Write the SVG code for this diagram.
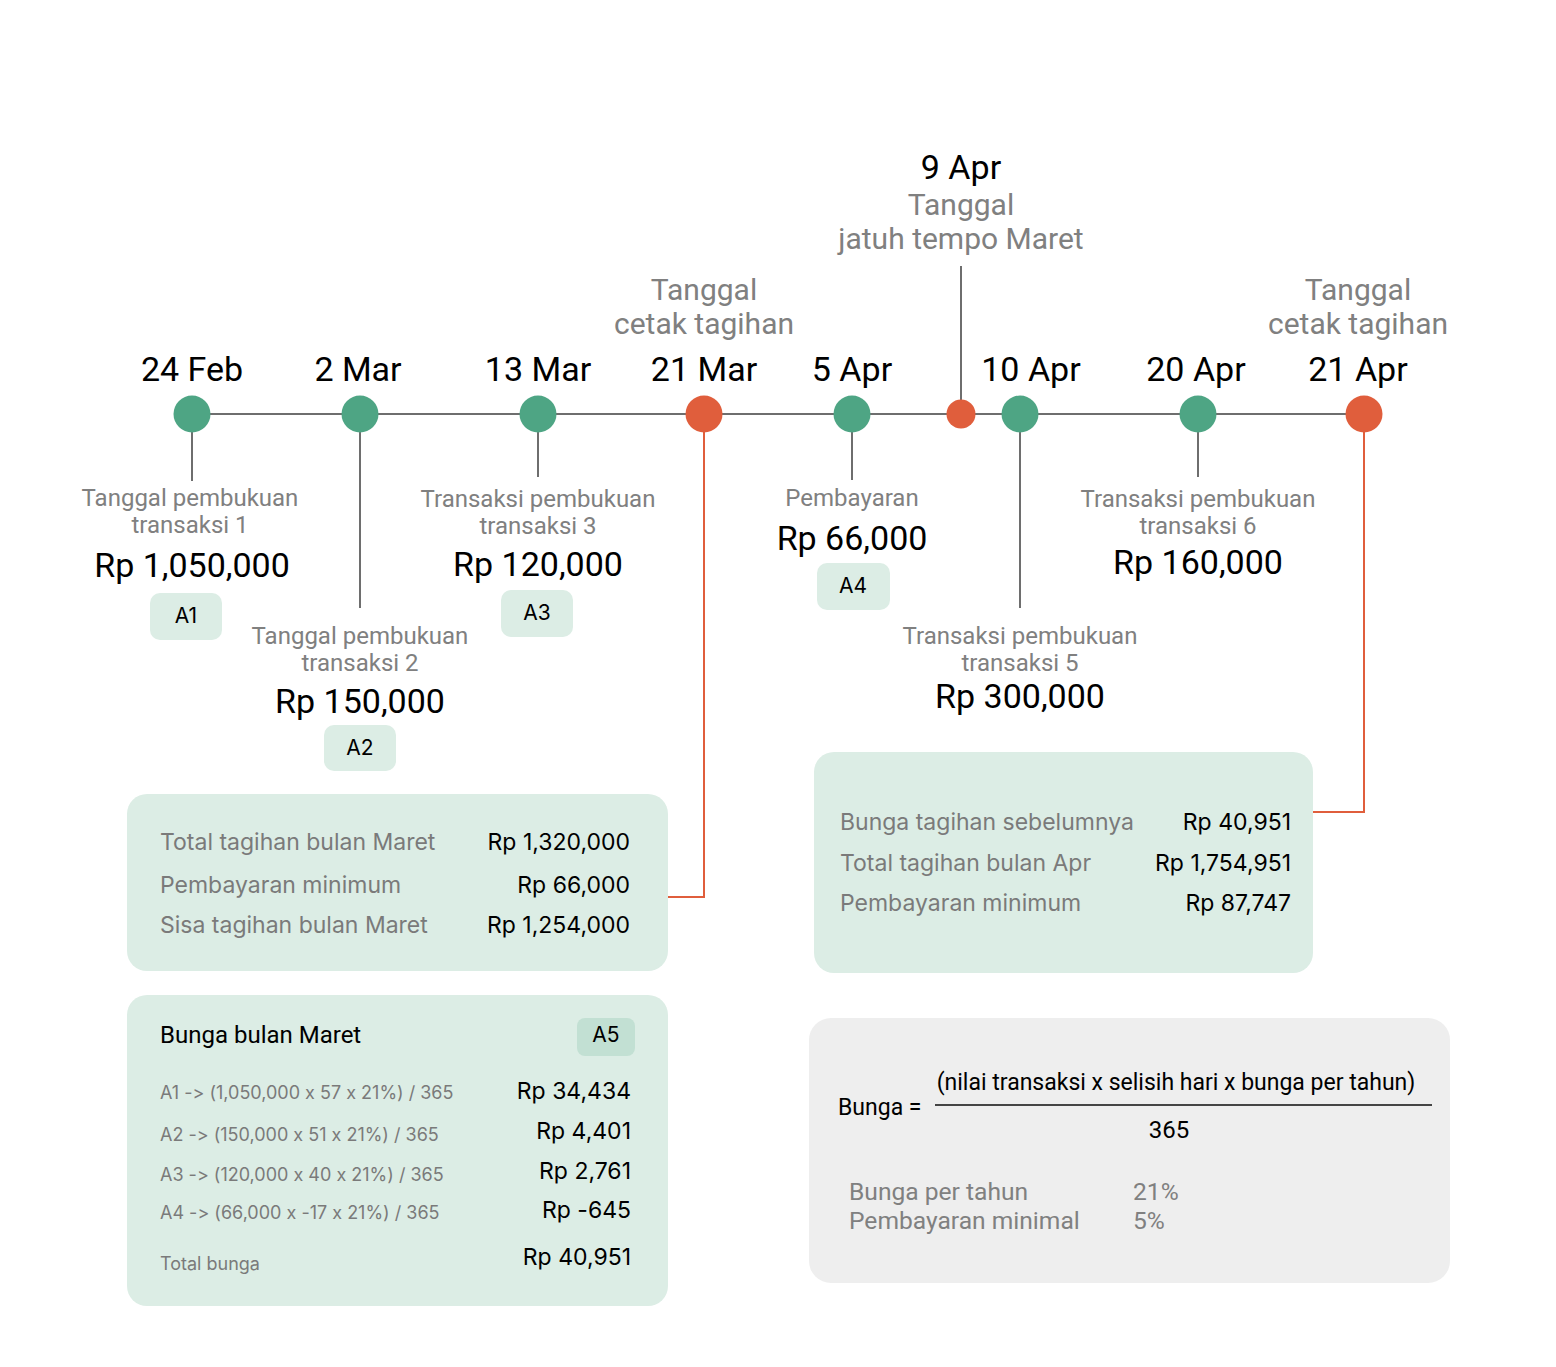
<svg xmlns="http://www.w3.org/2000/svg" width="1556" height="1367" viewBox="0 0 1556 1367">
<style>
text{font-variant-ligatures:none;font-feature-settings:"calt" 0,"liga" 0}
.date{font-family:Roboto,"Liberation Sans",sans-serif;font-size:34px;fill:#000;text-anchor:middle}
.glab{font-family:Roboto,"Liberation Sans",sans-serif;font-size:30px;fill:#808080;text-anchor:middle}
.slab{font-family:Roboto,"Liberation Sans",sans-serif;font-size:24px;fill:#808080;text-anchor:middle}
.amt{font-family:Roboto,"Liberation Sans",sans-serif;font-size:34px;fill:#000;text-anchor:middle}
.tag{fill:#DCEDE5}
.tagt{font-family:Inter,"Liberation Sans",sans-serif;font-size:21px;fill:#000;text-anchor:middle}
.box{fill:#DCEDE5}
.bl{font-family:Inter,"Liberation Sans",sans-serif;font-size:23px;fill:#7a7a7a}
.br{font-family:Inter,"Liberation Sans",sans-serif;font-size:23px;fill:#000;text-anchor:end}
.fl{font-family:Inter,"Liberation Sans",sans-serif;font-size:18px;fill:#7a7a7a}
.fr{font-family:Inter,"Liberation Sans",sans-serif;font-size:23px;fill:#000;text-anchor:end}
.green{fill:#4EA584}
.orange{fill:#E05E3C}
.gl{stroke:#6e6e6e;stroke-width:2;fill:none}
.ol{stroke:#E05E3C;stroke-width:2;fill:none}
.f{font-family:Roboto,"Liberation Sans",sans-serif;fill:#000}
.fg{font-family:Roboto,"Liberation Sans",sans-serif;font-size:24.6px;fill:#808080}
</style>
<rect width="1556" height="1367" fill="#fff"/>
<g id="connectors">
<line class="gl" x1="192" y1="414" x2="1364" y2="414"/>
<line class="gl" x1="192" y1="414" x2="192" y2="481"/>
<line class="gl" x1="360" y1="414" x2="360" y2="608"/>
<line class="gl" x1="538" y1="414" x2="538" y2="477"/>
<line class="gl" x1="852" y1="414" x2="852" y2="480"/>
<line class="gl" x1="961" y1="266" x2="961" y2="414"/>
<line class="gl" x1="1020" y1="414" x2="1020" y2="608"/>
<line class="gl" x1="1198" y1="414" x2="1198" y2="477"/>
<polyline class="ol" points="704,414 704,897 668,897"/>
<polyline class="ol" points="1364,414 1364,812 1313,812"/>
</g>
<g id="n-24feb">
<text class="date" x="192" y="381">24 Feb</text>
<circle class="green" cx="192" cy="414" r="18.5"/>
<text class="slab" x="190" y="506">Tanggal pembukuan</text>
<text class="slab" x="190" y="533">transaksi 1</text>
<text class="amt" x="192" y="577">Rp 1,050,000</text>
<rect class="tag" x="150" y="593" width="72" height="47" rx="10"/>
<text class="tagt" x="186" y="623">A1</text>
</g>
<g id="n-2mar">
<text class="date" x="358" y="381">2 Mar</text>
<circle class="green" cx="360" cy="414" r="18.5"/>
<text class="slab" x="360" y="644">Tanggal pembukuan</text>
<text class="slab" x="360" y="671">transaksi 2</text>
<text class="amt" x="360" y="713">Rp 150,000</text>
<rect class="tag" x="324" y="725" width="72" height="46" rx="10"/>
<text class="tagt" x="360" y="755">A2</text>
</g>
<g id="n-13mar">
<text class="date" x="538" y="381">13 Mar</text>
<circle class="green" cx="538" cy="414" r="18.5"/>
<text class="slab" x="538" y="507">Transaksi pembukuan</text>
<text class="slab" x="538" y="534">transaksi 3</text>
<text class="amt" x="538" y="576">Rp 120,000</text>
<rect class="tag" x="501" y="590" width="72" height="47" rx="10"/>
<text class="tagt" x="537" y="620">A3</text>
</g>
<g id="n-21mar">
<text class="glab" x="704" y="300">Tanggal</text>
<text class="glab" x="704" y="334">cetak tagihan</text>
<text class="date" x="704" y="381">21 Mar</text>
<circle class="orange" cx="704" cy="414" r="18.5"/>
</g>
<g id="n-5apr">
<text class="date" x="852" y="381">5 Apr</text>
<circle class="green" cx="852" cy="414" r="18.5"/>
<text class="slab" x="852" y="506">Pembayaran</text>
<text class="amt" x="852" y="550">Rp 66,000</text>
<rect class="tag" x="817" y="563" width="73" height="47" rx="10"/>
<text class="tagt" x="853" y="593">A4</text>
</g>
<g id="n-9apr">
<text class="date" x="961" y="179">9 Apr</text>
<text class="glab" x="961" y="215">Tanggal</text>
<text class="glab" x="961" y="249">jatuh tempo Maret</text>
<circle class="orange" cx="961" cy="414" r="14.5"/>
</g>
<g id="n-10apr">
<text class="date" x="1031" y="381">10 Apr</text>
<circle class="green" cx="1020" cy="414" r="18.5"/>
<text class="slab" x="1020" y="644">Transaksi pembukuan</text>
<text class="slab" x="1020" y="671">transaksi 5</text>
<text class="amt" x="1020" y="708">Rp 300,000</text>
</g>
<g id="n-20apr">
<text class="date" x="1196" y="381">20 Apr</text>
<circle class="green" cx="1198" cy="414" r="18.5"/>
<text class="slab" x="1198" y="507">Transaksi pembukuan</text>
<text class="slab" x="1198" y="534">transaksi 6</text>
<text class="amt" x="1198" y="574">Rp 160,000</text>
</g>
<g id="n-21apr">
<text class="glab" x="1358" y="300">Tanggal</text>
<text class="glab" x="1358" y="334">cetak tagihan</text>
<text class="date" x="1358" y="381">21 Apr</text>
<circle class="orange" cx="1364" cy="414" r="18.5"/>
</g>
<g id="box-maret">
<rect class="box" x="127" y="794" width="541" height="177" rx="20"/>
<text class="bl" x="160" y="850">Total tagihan bulan Maret</text>
<text class="br" x="630" y="850">Rp 1,320,000</text>
<text class="bl" x="160" y="893">Pembayaran minimum</text>
<text class="br" x="630" y="893">Rp 66,000</text>
<text class="bl" x="160" y="933">Sisa tagihan bulan Maret</text>
<text class="br" x="630" y="933">Rp 1,254,000</text>
</g>
<g id="box-bunga">
<rect class="box" x="127" y="995" width="541" height="311" rx="20"/>
<text class="f" x="160" y="1043" font-size="24" font-family="Inter, Liberation Sans, sans-serif">Bunga bulan Maret</text>
<rect x="577" y="1018" width="58" height="38" rx="8" fill="#C2E0D3"/>
<text class="tagt" x="606" y="1042" font-size="17">A5</text>
<text class="fl" x="160" y="1099">A1 -&gt; (1,050,000 x 57 x 21%) / 365</text>
<text class="fr" x="631" y="1099">Rp 34,434</text>
<text class="fl" x="160" y="1141">A2 -&gt; (150,000 x 51 x 21%) / 365</text>
<text class="fr" x="631" y="1139">Rp 4,401</text>
<text class="fl" x="160" y="1181">A3 -&gt; (120,000 x 40 x 21%) / 365</text>
<text class="fr" x="631" y="1179">Rp 2,761</text>
<text class="fl" x="160" y="1219">A4 -&gt; (66,000 x -17 x 21%) / 365</text>
<text class="fr" x="631" y="1218">Rp -645</text>
<text class="fl" x="160" y="1270">Total bunga</text>
<text class="fr" x="631" y="1265">Rp 40,951</text>
</g>
<g id="box-april">
<rect class="box" x="814" y="752" width="499" height="221" rx="20"/>
<text class="bl" x="840" y="830">Bunga tagihan sebelumnya</text>
<text class="br" x="1291" y="830">Rp 40,951</text>
<text class="bl" x="840" y="871">Total tagihan bulan Apr</text>
<text class="br" x="1291" y="871">Rp 1,754,951</text>
<text class="bl" x="840" y="911">Pembayaran minimum</text>
<text class="br" x="1291" y="911">Rp 87,747</text>
</g>
<g id="box-formula">
<rect x="809" y="1018" width="641" height="265" rx="22" fill="#EEEEEE"/>
<text class="f" x="838" y="1115" font-size="23">Bunga =</text>
<text class="f" x="1176" y="1090" font-size="23" text-anchor="middle">(nilai transaksi x selisih hari x bunga per tahun)</text>
<line x1="935" y1="1105" x2="1432" y2="1105" stroke="#444" stroke-width="2"/>
<text class="f" x="1169" y="1138" font-size="24" text-anchor="middle">365</text>
<text class="fg" x="849" y="1200">Bunga per tahun</text>
<text class="fg" x="1133" y="1200">21%</text>
<text class="fg" x="849" y="1229">Pembayaran minimal</text>
<text class="fg" x="1133" y="1229">5%</text>
</g>
</svg>
